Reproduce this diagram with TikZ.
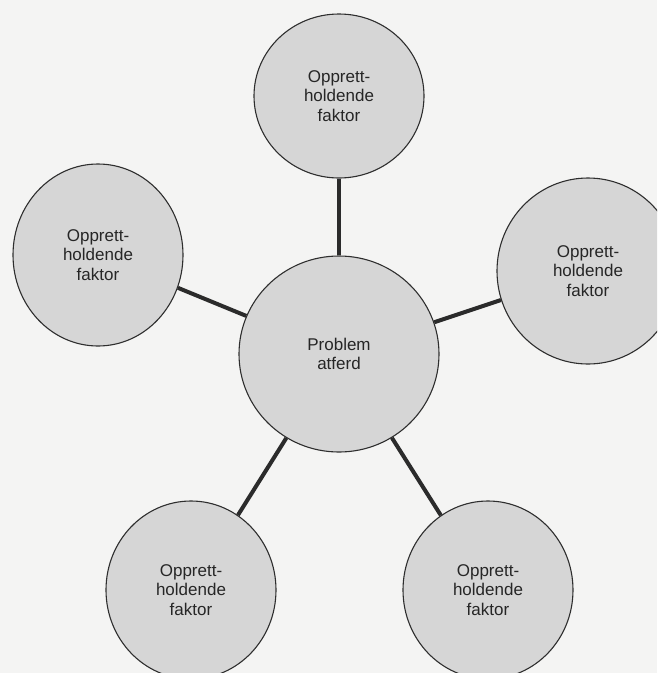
\documentclass[tikz,border=0pt]{standalone}
\usepackage{fontspec}
\setmainfont{Liberation Sans}
\usetikzlibrary{shapes.geometric}
\definecolor{bgc}{HTML}{F4F4F3}
\definecolor{fillc}{HTML}{D6D6D6}
\definecolor{edgec}{HTML}{2E2E2E}
\definecolor{linec}{HTML}{2B2B2B}
\definecolor{textc}{HTML}{262626}
\tikzset{
  blob/.style={ellipse, draw=edgec, line width=1.1pt, fill=fillc, inner sep=0pt,
    align=center, text=textc, font=\fontsize{17}{19.7}\selectfont},
  link/.style={draw=linec, line width=4pt}
}
\begin{document}
\begin{tikzpicture}[x=1pt,y=-1pt]
\useasboundingbox (0,0) rectangle (657,673);
\clip (0,0) rectangle (657,673);
\fill[bgc] (0,0) rectangle (657,673);
\node[blob, minimum width=200pt, minimum height=196pt] (c) at (339,354) {Problem\\atferd};
\node[blob, minimum width=170pt, minimum height=164pt] (t) at (339,96) {Opprett-\\holdende\\faktor};
\node[blob, minimum width=170pt, minimum height=182pt] (l) at (98,255) {Opprett-\\holdende\\faktor};
\node[blob, minimum width=182pt, minimum height=186pt] (r) at (588,271) {Opprett-\\holdende\\faktor};
\node[blob, minimum width=170pt, minimum height=178pt] (bl) at (191,590) {Opprett-\\holdende\\faktor};
\node[blob, minimum width=170pt, minimum height=178pt] (br) at (488,590) {Opprett-\\holdende\\faktor};
\draw[link] (c) -- (t);
\draw[link] (c) -- (l);
\draw[link] (c) -- (r);
\draw[link] (c) -- (bl);
\draw[link] (c) -- (br);
\end{tikzpicture}
\end{document}
